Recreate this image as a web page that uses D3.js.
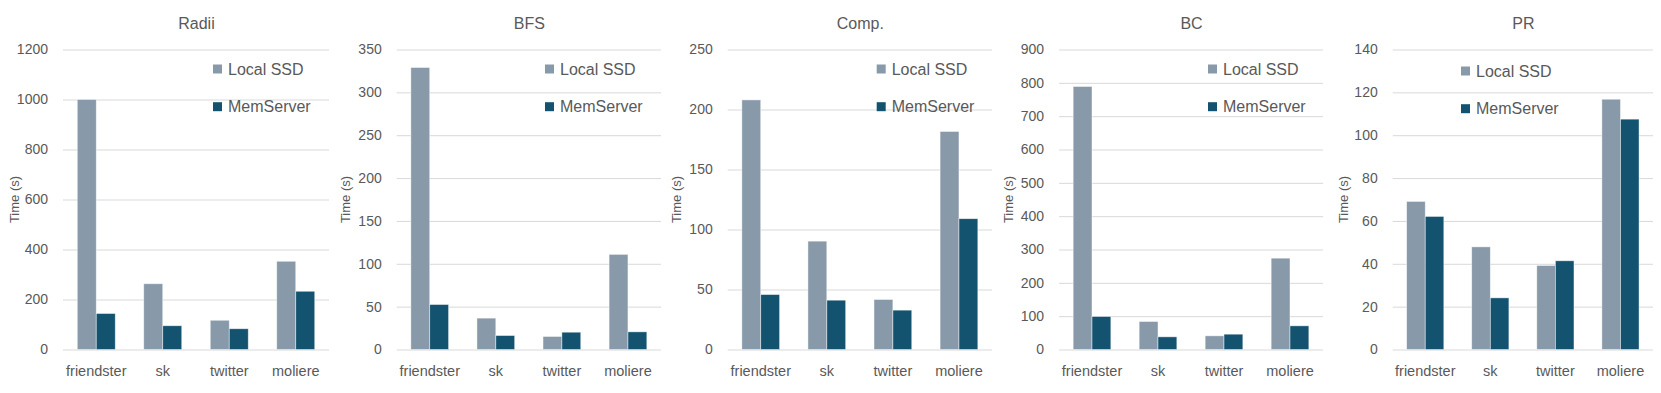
<!DOCTYPE html>
<html>
<head>
<meta charset="utf-8">
<script src="https://cdn.jsdelivr.net/npm/d3@7"></script>
<style>
  html, body { margin: 0; padding: 0; background: #ffffff; }
  svg { display: block; font-family: "Liberation Sans", Arial, sans-serif; }
</style>
</head>
<body>
<svg id="chart" width="1661" height="393"></svg>
<script>
// ---- data ----
const categories = ["friendster", "sk", "twitter", "moliere"];
const seriesNames = ["Local SSD", "MemServer"];
const panelTitles = ["Radii", "BFS", "Comp.", "BC", "PR"];
const yMax = [1200, 350, 250, 900, 140];
const yStep = [200, 50, 50, 100, 20];

const radiiLocal = [1000, 263, 117, 353];
const radiiMem   = [144, 95, 83, 233];
const bfsLocal   = [329, 36.6, 15.2, 111];
const bfsMem     = [52.5, 16.3, 20.2, 20.6];
const compLocal  = [208, 90.3, 41.7, 181.7];
const compMem    = [45.8, 41.1, 32.8, 109];
const bcLocal    = [789, 84, 41, 274];
const bcMem      = [99, 38, 46, 71];
const prLocal    = [69.1, 47.9, 39.2, 116.8];
const prMem      = [62.1, 24.1, 41.4, 107.5];

const panelData = [
  [radiiLocal, radiiMem],
  [bfsLocal, bfsMem],
  [compLocal, compMem],
  [bcLocal, bcMem],
  [prLocal, prMem]
];

// ---- layout / style ----
const colors = ["#8899AA", "#145370"];
const textColor = "#595959";
const gridColor = "#D9D9D9";
const plotLeft  = [63, 396.7, 727.7, 1059, 1392.7];
const plotRight = [329, 661, 992, 1323, 1653];
const legendDx  = [150, 148.3, 149, 149, 68.3];
const legendDy  = [0, 0, 0, 0, 2];
const yTitleDx  = [49, 51.5, 51, 51, 49.7];
const plotTop = 49.5, plotBottom = 349.5;

const svg = d3.select("#chart");

panelData.forEach((series, pi) => {
  const g = svg.append("g");
  const x0 = d3.scaleBand().domain(categories).range([plotLeft[pi], plotRight[pi]]).paddingInner(0).paddingOuter(0);
  // Excel gap width 150%: two bars take 2/(2+1.5) of the band
  const barW = x0.bandwidth() / 3.5;
  const x1 = d3.scaleBand().domain(seriesNames).range([0, 2 * barW]).padding(0);
  const y = d3.scaleLinear().domain([0, yMax[pi]]).range([plotBottom, plotTop]);
  const ticks = d3.range(0, yMax[pi] + yStep[pi] / 2, yStep[pi]);

  // gridlines via axis
  const yGrid = d3.axisLeft(y).tickValues(ticks)
    .tickSize(-(plotRight[pi] - plotLeft[pi])).tickFormat("");
  const gg = g.append("g").attr("transform", `translate(${plotLeft[pi]},0)`).call(yGrid);
  gg.select(".domain").remove();
  gg.selectAll(".tick line").attr("stroke", gridColor).attr("stroke-width", 1);

  // y tick labels
  const yAx = d3.axisLeft(y).tickValues(ticks).tickSize(0).tickPadding(15).tickFormat(d3.format("d"));
  const ga = g.append("g").attr("transform", `translate(${plotLeft[pi]},0)`).call(yAx);
  ga.select(".domain").remove();
  ga.selectAll("text").attr("fill", textColor).attr("font-size", 14)
    .attr("font-family", "Liberation Sans, Arial, sans-serif");

  // bars
  seriesNames.forEach((s, si) => {
    g.append("g").selectAll("rect").data(series[si]).join("rect")
      .attr("x", (d, i) => x0(categories[i]) + (x0.bandwidth() - 2 * barW) / 2 + x1(s))
      .attr("y", d => y(d))
      .attr("width", x1.bandwidth())
      .attr("height", d => y(0) - y(d))
      .attr("fill", colors[si])
      .attr("stroke", "#ffffff").attr("stroke-opacity", 0.6).attr("stroke-width", 0.75);
  });

  // x axis labels
  const xAx = d3.axisBottom(x0).tickSize(0).tickPadding(16);
  const gx = g.append("g").attr("transform", `translate(0,${plotBottom})`).call(xAx);
  gx.select(".domain").remove();
  gx.selectAll("text").attr("fill", textColor).attr("font-size", 14.5)
    .attr("font-family", "Liberation Sans, Arial, sans-serif");

  // title
  g.append("text")
    .attr("x", (plotLeft[pi] + plotRight[pi]) / 2 + 0.5)
    .attr("y", 29)
    .attr("text-anchor", "middle")
    .attr("fill", textColor).attr("font-size", 16)
    .text(panelTitles[pi]);

  // y axis title
  g.append("text")
    .attr("transform", `translate(${plotLeft[pi] - yTitleDx[pi] + 4.5},${(plotTop + plotBottom) / 2}) rotate(-90)`)
    .attr("text-anchor", "middle")
    .attr("fill", textColor).attr("font-size", 13)
    .text("Time (s)");

  // legend
  seriesNames.forEach((s, si) => {
    const lx = plotLeft[pi] + legendDx[pi];
    const ly = 69 + legendDy[pi] + si * 37.7;
    g.append("rect").attr("x", lx).attr("y", ly - 4.5).attr("width", 9).attr("height", 9)
      .attr("fill", colors[si]);
    g.append("text").attr("x", lx + 15).attr("y", ly).attr("dy", "0.35em")
      .attr("fill", textColor).attr("font-size", 16).text(s);
  });
});
</script>
</body>
</html>
